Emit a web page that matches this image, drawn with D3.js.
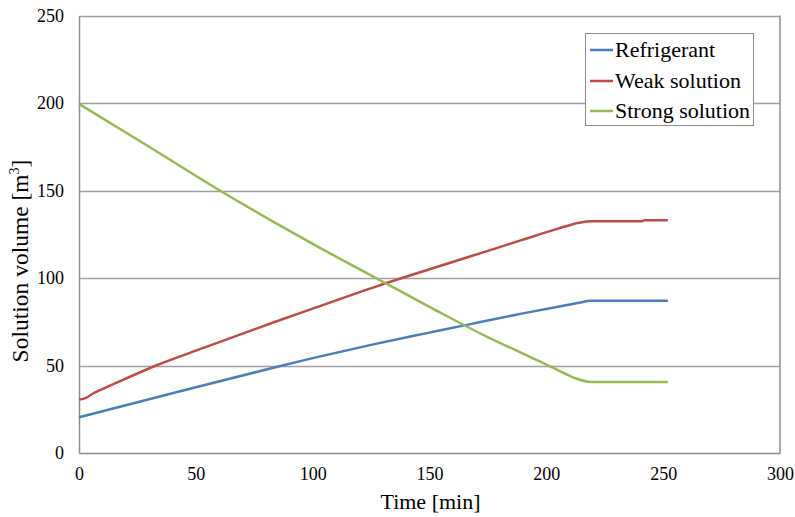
<!DOCTYPE html>
<html>
<head>
<meta charset="utf-8">
<script src="https://cdn.jsdelivr.net/npm/d3@7"></script>
<style>
  body { margin: 0; background: #fff; }
  svg text { font-family: "Liberation Serif", "Times New Roman", Times, "DejaVu Serif", serif; fill: #000; }
</style>
</head>
<body>
<div id="chart"></div>
<script>
// values: [time min, volume m3]
let refrigerant = [[0,20.4],[25,29],[50,37.6],[84,49],[100,54.2],[125,61.8],[150,68.8],[168,73.8],[190,79.8],[205,83.6],[214,85.8],[219,87],[252,87]];
let weakSolution = [[0,30.5],[3,31.5],[6,34],[10,36.5],[20,42.5],[33,50],[50,58.5],[84,75],[100,82.5],[128,95.5],[150,105],[168,112.6],[176,115.9],[190,121.9],[205,128.2],[214,131.6],[219,132.5],[241,132.5],[242,133],[252,133]];
let strongSolution = [[0,199.5],[30,175],[59,151],[84,131.5],[100,119.5],[127,100],[150,83.5],[176,65.5],[190,56.8],[199,51.2],[207,46],[213,42.4],[219,40.6],[252,40.6]];

let seriesNames = ["Refrigerant", "Weak solution", "Strong solution"];
let seriesColors = ["#4a7ebb", "#be4b48", "#98b954"];
let xTicks = [0, 50, 100, 150, 200, 250, 300];
let yTicks = [0, 50, 100, 150, 200, 250];

let W = 795, H = 517;
let margin = {left: 79, right: 15, top: 15.5, bottom: 64};
let serif = '"Liberation Serif", "Times New Roman", Times, "DejaVu Serif", serif';

let svg = d3.select("#chart").append("svg").attr("width", W).attr("height", H);

let x = d3.scaleLinear().domain([0, 300]).range([margin.left, W - margin.right]);
let y = d3.scaleLinear().domain([0, 250]).range([H - margin.bottom, margin.top]);

//gridlines
svg.append("g").selectAll("line").data(yTicks.filter(d => d > 0)).enter()
  .append("line")
  .attr("x1", x(0)).attr("x2", x(300))
  .attr("y1", d => Math.round(y(d)) + 0.5).attr("y2", d => Math.round(y(d)) + 0.5)
  .attr("stroke", "#a0a0a0").attr("stroke-width", 1.5);

//frame: right border
svg.append("line")
  .attr("x1", x(300)).attr("x2", x(300)).attr("y1", y(0)).attr("y2", y(250))
  .attr("stroke", "#8c8c8c").attr("stroke-width", 1.5);

let xAxis = svg.append("g").attr("transform", `translate(0,${y(0)})`)
  .call(d3.axisBottom(x).tickValues(xTicks).tickSize(0).tickPadding(14));
let yAxis = svg.append("g").attr("transform", `translate(${x(0)},0)`)
  .call(d3.axisLeft(y).tickValues(yTicks).tickSize(0).tickPadding(15));

[xAxis, yAxis].forEach(a => {
  a.attr("font-family", serif).attr("font-size", 18);
  a.select(".domain").attr("stroke", "#8c8c8c").attr("stroke-width", 1.5);
  a.selectAll("text").attr("fill", "#000");
});

//axis titles
svg.append("text")
  .attr("x", (x(0) + x(300)) / 2 + 1).attr("y", 509)
  .attr("text-anchor", "middle").attr("font-family", serif).style("font-size", "22px")
  .text("Time [min]");

let yt = svg.append("text")
  .attr("transform", "translate(28,261) rotate(-90)")
  .attr("text-anchor", "middle").attr("font-family", serif).style("font-size", "23.5px");
yt.append("tspan").text("Solution volume [m");
yt.append("tspan").attr("dy", -9).style("font-size", "14px").text("3");
yt.append("tspan").attr("dy", 9).text("]");

//lines
let line = d3.line().x(d => x(d[0])).y(d => y(d[1])).curve(d3.curveMonotoneX);
let allSeries = [refrigerant, weakSolution, strongSolution];
svg.append("g").selectAll("path").data(allSeries).enter()
  .append("path")
  .attr("d", line)
  .attr("fill", "none")
  .attr("stroke", (d, i) => seriesColors[i])
  .attr("stroke-width", 2.5)
  .attr("stroke-linejoin", "round");

//legend
let lg = svg.append("g");
lg.append("rect")
  .attr("x", 585.5).attr("y", 33.5).attr("width", 168).attr("height", 92)
  .attr("fill", "#fff").attr("stroke", "#8c8c8c").attr("stroke-width", 1);
let rows = [50, 81, 111];
seriesNames.forEach((name, i) => {
  lg.append("line")
    .attr("x1", 590).attr("x2", 613).attr("y1", rows[i]).attr("y2", rows[i])
    .attr("stroke", seriesColors[i]).attr("stroke-width", 2.5);
  lg.append("text")
    .attr("x", 615).attr("y", rows[i] + 7)
    .attr("font-family", serif)
    .style("font-size", "22px")
    .text(name);
});
</script>
</body>
</html>
